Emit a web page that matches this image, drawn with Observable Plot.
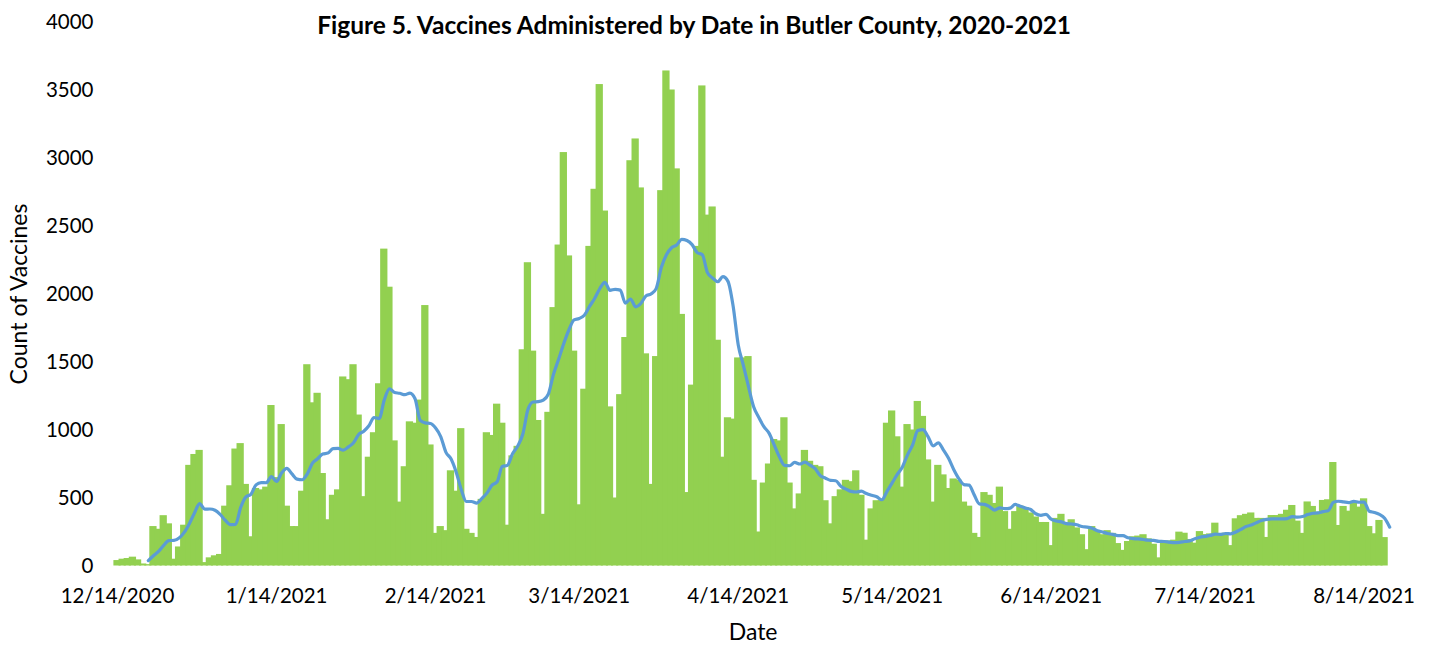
<!DOCTYPE html>
<html>
<head>
<meta charset="utf-8">
<script src="https://cdn.jsdelivr.net/npm/d3@7"></script>
<script src="https://cdn.jsdelivr.net/npm/@observablehq/plot@0.6"></script>
<style>
  html, body { margin: 0; padding: 0; background: #fff; }
  #chart { width: 1434px; height: 645px; }
</style>
</head>
<body>
<div id="chart"></div>
<script>
// ---- data ----
const titleText = "Figure 5. Vaccines Administered by Date in Butler County, 2020-2021";
const yLabel = "Count of Vaccines";
const xLabel = "Date";
const firstDate = "2020-12-14";
// daily count of vaccines, 12/14/2020 .. 8/19/2021
const counts = [
  40, 50, 55, 65, 45, 15, 10, 290, 270, 370, 310, 50, 140, 300, 740, 820, 850, 25, 60, 75,
  85, 440, 590, 860, 900, 600, 215, 570, 560, 580, 1180, 650, 1040, 440, 290, 290, 550, 1480, 1200, 1270,
  680, 340, 520, 560, 1390, 1370, 1480, 1110, 510, 800, 980, 1340, 2330, 2050, 920, 470, 730, 1060, 1050, 1220,
  1915, 890, 240, 290, 260, 700, 550, 1010, 270, 240, 210, 490, 980, 960, 1190, 1050, 300, 810, 880, 1590,
  2230, 1580, 1070, 380, 1130, 1900, 2360, 3040, 2280, 1580, 450, 1300, 2350, 2770, 3540, 2610, 1170, 500, 1260, 1680,
  2980, 3140, 2780, 1560, 600, 1540, 2760, 3640, 3500, 2920, 1850, 540, 1330, 2350, 3530, 2580, 2640, 1660, 800, 1090,
  1080, 1530, 1530, 1540, 630, 250, 610, 750, 930, 920, 1090, 610, 420, 530, 850, 770, 740, 730, 480, 310,
  510, 560, 630, 620, 700, 520, 190, 420, 480, 480, 1050, 1140, 950, 580, 1040, 1000, 1210, 1100, 780, 470,
  740, 670, 570, 640, 630, 470, 440, 240, 210, 540, 520, 460, 580, 400, 270, 400, 440, 430, 390, 360,
  320, 320, 150, 350, 380, 300, 340, 280, 230, 120, 290, 260, 230, 260, 240, 165, 115, 180, 215, 220,
  230, 200, 160, 60, 175, 185, 190, 249, 241, 195, 168, 253, 231, 236, 315, 230, 241, 150, 347, 370,
  380, 390, 350, 350, 210, 371, 371, 380, 410, 445, 330, 240, 471, 438, 396, 482, 487, 761, 298, 438,
  403, 462, 433, 494, 290, 237, 335, 209, 0
];
const xTickLabels = ["12/14/2020", "1/14/2021", "2/14/2021", "3/14/2021", "4/14/2021", "5/14/2021", "6/14/2021", "7/14/2021", "8/14/2021"];
const yTickValues = [0, 500, 1000, 1500, 2000, 2500, 3000, 3500, 4000];

// ---- build table ----
const d0 = new Date(firstDate + "T00:00:00Z");
const data = counts.map((v, i) => ({date: d3.utcDay.offset(d0, i), value: v}));
const parseMDY = s => { const [m, d, y] = s.split("/").map(Number); return new Date(Date.UTC(y, m - 1, d)); };
const xTicks = xTickLabels.map(parseMDY);
const fmt = d => `${d.getUTCMonth() + 1}/${d.getUTCDate()}/${d.getUTCFullYear()}`;
const lastDate = data[data.length - 1].date;

const FONT = "Lato, 'Open Sans', sans-serif";

const chart = Plot.plot({
  width: 1434,
  height: 645,
  marginLeft: 113.4,
  marginRight: 42.2,
  marginTop: 21.5,
  marginBottom: 79.5,
  style: {fontFamily: FONT, fontSize: "20px", color: "#000", background: "#fff"},
  x: {type: "utc", domain: [d3.utcHour.offset(d0, -17), d3.utcHour.offset(lastDate, 12)]},
  y: {domain: [0, 4000]},
  marks: [
    Plot.rect(data, {
      x1: d => d3.utcHour.offset(d.date, -17),
      x2: d => d3.utcHour.offset(d.date, 17),
      y1: d => 0,
      y2: "value",
      fill: "#92D050"
    }),
    Plot.lineY(data, Plot.windowY({k: 7, anchor: "end", reduce: "mean", strict: true}, {
      x: "date", y: "value", stroke: "#5B9BD5", strokeWidth: 3.2, strokeLinejoin: "round", curve: "monotone-x"
    })),
    Plot.axisY({ticks: yTickValues, tickFormat: d3.format("d"), tickSize: 0, tickPadding: 20.4, label: null, fontSize: 20.5}),
    Plot.axisX({ticks: xTicks, tickFormat: fmt, tickSize: 0, tickPadding: 22, label: null, fontSize: 20.5}),
    Plot.text([titleText], {frameAnchor: "top", dx: -59, dy: 4.5, lineAnchor: "middle", fontWeight: "bold", fontSize: 24.5}),
    Plot.text([yLabel], {frameAnchor: "left", dx: -94, rotate: -90, textAnchor: "middle", lineAnchor: "middle", fontSize: 23}),
    Plot.text([xLabel], {frameAnchor: "bottom", dy: 66.5, lineAnchor: "middle", fontSize: 23})
  ]
});
document.getElementById("chart").appendChild(chart);
</script>
</body>
</html>
